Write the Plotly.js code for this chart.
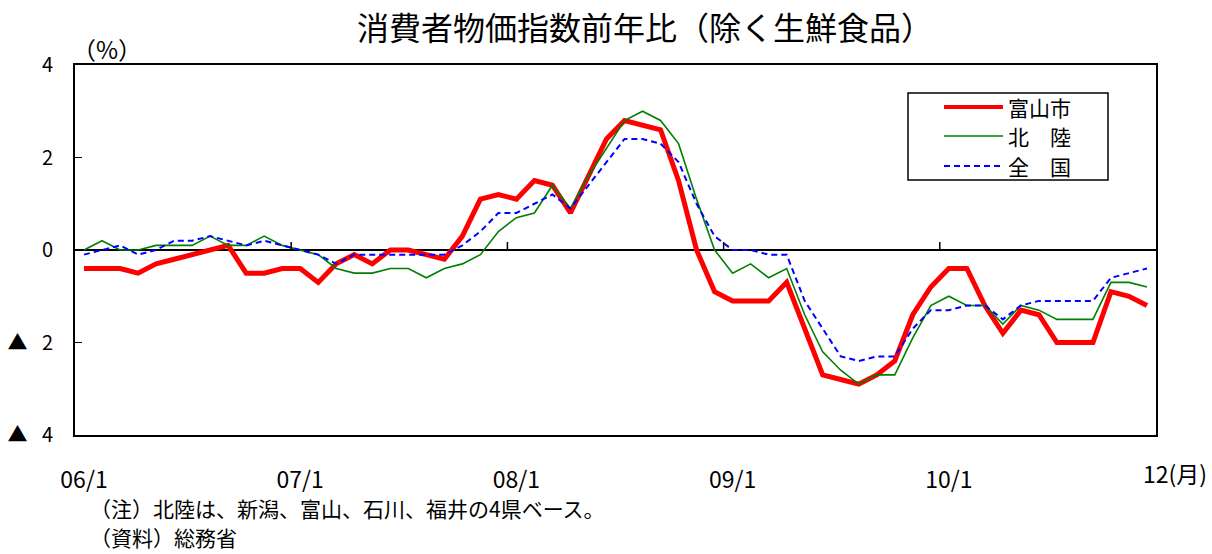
<!DOCTYPE html>
<html>
<head>
<meta charset="utf-8">
<script src="https://cdn.plot.ly/plotly-3.0.1.min.js"></script>
<style>
html,body{margin:0;padding:0;background:#fff;}
#chart{width:1212px;height:554px;}
</style>
</head>
<body>
<div id="chart"></div>
<script>
// 2006/1 – 2010/12, monthly, year-on-year % change (CPI excl. fresh food)
const yearLabels = ["06/1", "07/1", "08/1", "09/1", "10/1"];
const lastLabel = "12(月)";
const seriesNames = ["富山市", "北　陸", "全　国"];

const toyama = [
  -0.4, -0.4, -0.4, -0.5, -0.3, -0.2, -0.1, 0.0, 0.1, -0.5, -0.5, -0.4,
  -0.4, -0.7, -0.3, -0.1, -0.3, 0.0, 0.0, -0.1, -0.2, 0.3, 1.1, 1.2,
  1.1, 1.5, 1.4, 0.8, 1.6, 2.4, 2.8, 2.7, 2.6, 1.5, 0.0, -0.9,
  -1.1, -1.1, -1.1, -0.7, -1.7, -2.7, -2.8, -2.9, -2.7, -2.4, -1.4, -0.8,
  -0.4, -0.4, -1.2, -1.8, -1.3, -1.4, -2.0, -2.0, -2.0, -0.9, -1.0, -1.2
];
const hokuriku = [
  0.0, 0.2, 0.0, 0.0, 0.1, 0.1, 0.1, 0.3, 0.1, 0.1, 0.3, 0.1,
  0.0, -0.1, -0.4, -0.5, -0.5, -0.4, -0.4, -0.6, -0.4, -0.3, -0.1, 0.4,
  0.7, 0.8, 1.4, 0.9, 1.6, 2.2, 2.8, 3.0, 2.8, 2.3, 1.1, 0.0,
  -0.5, -0.3, -0.6, -0.4, -1.4, -2.2, -2.6, -2.9, -2.7, -2.7, -1.9, -1.2,
  -1.0, -1.2, -1.2, -1.6, -1.2, -1.3, -1.5, -1.5, -1.5, -0.7, -0.7, -0.8
];
const zenkoku = [
  -0.1, 0.0, 0.1, -0.1, 0.0, 0.2, 0.2, 0.3, 0.2, 0.1, 0.2, 0.1,
  0.0, -0.1, -0.3, -0.1, -0.1, -0.1, -0.1, -0.1, -0.1, 0.1, 0.4, 0.8,
  0.8, 1.0, 1.2, 0.9, 1.4, 1.9, 2.4, 2.4, 2.3, 1.9, 1.0, 0.3,
  0.0, 0.0, -0.1, -0.1, -1.1, -1.7, -2.3, -2.4, -2.3, -2.3, -1.7, -1.3,
  -1.3, -1.2, -1.2, -1.5, -1.2, -1.1, -1.1, -1.1, -1.1, -0.6, -0.5, -0.4
];
const yTickVals = [-4, -2, 0, 2, 4];
const yTickText = ["▲\u2002 4", "▲\u2002 2", "0", "2", "4"];

const idx = toyama.map((_, i) => i);
const yearTickVals = yearLabels.map((_, k) => k * 12);
const FONT = "Noto Sans CJK JP, Noto Sans, sans-serif";

const lineStyles = [
  {color: "#ff0000", width: 5},
  {color: "#008000", width: 1.6},
  {color: "#0000ff", width: 2, dash: "6px,4px"}
];
const seriesData = [toyama, hokuriku, zenkoku];

const traces = seriesData.map((ys, k) => ({
  x: idx, y: ys, name: seriesNames[k], type: "scatter", mode: "lines",
  line: lineStyles[k], showlegend: false
}));

// pixel helpers for the paper-positioned decorations (plot area 75..1156 x 65..435)
const PL = 75, PR = 1156, PT = 65, PB = 435;
const px = v => (v - PL) / (PR - PL);
const py = v => (PB - v) / (PB - PT);

// small ticks on the zero line at year boundaries
const shapes = yearTickVals.slice(1).map(v => ({
  type: "line", xref: "x", yref: "y", ysizemode: "pixel", yanchor: 0,
  x0: v - 0.5, x1: v - 0.5, y0: 0, y1: 8,
  line: {color: "#000", width: 1.5}
}));

// legend box, samples and labels
const legendRows = [107, 136, 166];
shapes.push({type: "rect", xref: "paper", yref: "paper",
  x0: px(908), x1: px(1108), y0: py(180), y1: py(93),
  fillcolor: "#fff", line: {color: "#000", width: 1.5}, layer: "below"});
legendRows.forEach((r, k) => {
  const ls = Object.assign({}, lineStyles[k]);
  if (k === 0) ls.width = 4;
  shapes.push({type: "line", xref: "paper", yref: "paper",
    x0: px(944), x1: px(1003), y0: py(r), y1: py(r), line: ls});
});

const annotations = [
  {text: lastLabel, xref: "x", x: 59, xanchor: "left", xshift: -6,
   yref: "paper", y: 0, yanchor: "middle", yshift: -38,
   showarrow: false, font: {family: FONT, size: 23, color: "#000"}},
  {text: "（%）", xref: "paper", x: px(70), xanchor: "left",
   yref: "paper", y: py(48), yanchor: "middle",
   showarrow: false, font: {family: FONT, size: 24, color: "#000"}},
  {text: "（注）北陸は、新潟、富山、石川、福井の4県ベース。", xref: "paper", x: px(88), xanchor: "left",
   yref: "paper", y: py(508), yanchor: "middle",
   showarrow: false, font: {family: FONT, size: 21, color: "#000"}},
  {text: "（資料）総務省", xref: "paper", x: px(88), xanchor: "left",
   yref: "paper", y: py(537), yanchor: "middle",
   showarrow: false, font: {family: FONT, size: 21, color: "#000"}}
];
legendRows.forEach((r, k) => {
  annotations.push({text: seriesNames[k], xref: "paper", x: px(1006), xanchor: "left",
    yref: "paper", y: py(r), yanchor: "middle", showarrow: false,
    font: {family: FONT, size: 21, color: "#000"}});
});

const layout = {
  width: 1212, height: 554,
  margin: {l: PL, r: 1212 - PR, t: PT, b: 554 - PB},
  paper_bgcolor: "#fff", plot_bgcolor: "#fff",
  font: {family: FONT, color: "#000", size: 20},
  showlegend: false,
  title: {
    text: "消費者物価指数前年比（除く生鮮食品）",
    font: {family: FONT, size: 32, color: "#000"},
    xref: "paper", x: px(645), xanchor: "center",
    yref: "container", y: 1 - 29 / 554, yanchor: "middle"
  },
  xaxis: {
    range: [-0.5, 59.5],
    tickvals: yearTickVals, ticktext: yearLabels,
    ticks: "", showgrid: false, zeroline: false,
    showline: true, linecolor: "#000", linewidth: 2, mirror: true,
    tickfont: {family: FONT, size: 23, color: "#000"},
    ticklabelstandoff: 23
  },
  yaxis: {
    range: [-4, 4],
    tickvals: yTickVals, ticktext: yTickText,
    ticks: "inside", ticklen: 7, tickwidth: 1.5, tickcolor: "#000",
    showgrid: false,
    zeroline: true, zerolinecolor: "#000", zerolinewidth: 2,
    showline: true, linecolor: "#000", linewidth: 2, mirror: true,
    tickfont: {family: FONT, size: 20, color: "#000"},
    ticklabelstandoff: 16
  },
  shapes: shapes,
  annotations: annotations
};

Plotly.newPlot("chart", traces, layout, {displayModeBar: false, staticPlot: true});
</script>
</body>
</html>
